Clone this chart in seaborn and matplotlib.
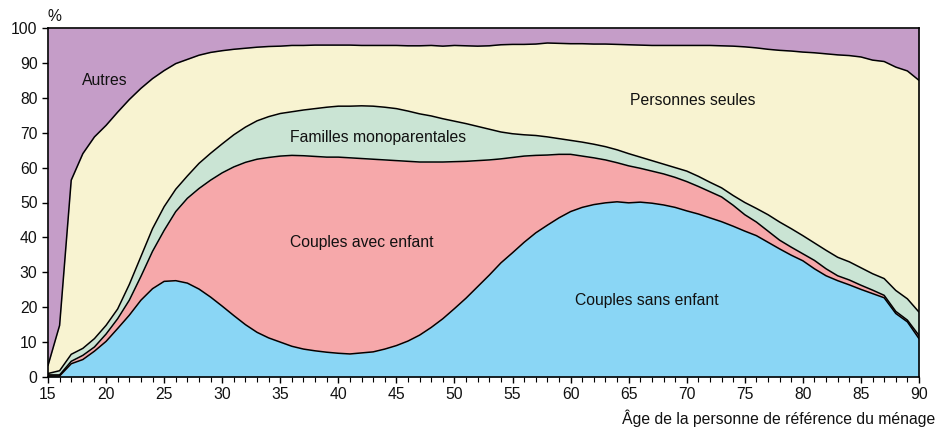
import numpy as np
import pandas as pd
import matplotlib
matplotlib.use('Agg')
import matplotlib.pyplot as plt
from matplotlib.ticker import MultipleLocator
import seaborn as sns

sns.set_theme(style='ticks')
plt.rcParams['font.family'] = ['Liberation Sans', 'DejaVu Sans']

# Age of the household reference person (one point per year)
ages = list(range(15, 91))

# Upper edge of each band (cumulative %)
top_sans_enfant = [
    0.3, 0.3, 3.8, 5.0, 7.4, 10.2, 13.9, 17.7, 22.0, 25.3,
    27.4, 27.6, 26.9, 25.2, 22.9, 20.3, 17.6, 15.0, 12.8, 11.2,
    10.0, 8.8, 8.0, 7.5, 7.1, 6.8, 6.6, 6.9, 7.2, 8.0,
    9.0, 10.3, 12.0, 14.2, 16.7, 19.6, 22.6, 25.9, 29.2, 32.7,
    35.6, 38.6, 41.3, 43.5, 45.6, 47.4, 48.6, 49.4, 49.9, 50.2,
    49.9, 50.1, 49.8, 49.3, 48.6, 47.6, 46.7, 45.6, 44.5, 43.2,
    41.8, 40.5, 38.6, 36.7, 34.9, 33.3, 31.0, 29.0, 27.6, 26.4,
    25.1, 23.9, 22.7, 18.2, 15.8, 11.0,
]
top_avec_enfant = [
    0.6, 0.6, 4.5, 6.2, 8.6, 12.3, 16.7, 22.0, 28.8, 36.0,
    42.0, 47.4, 51.2, 54.0, 56.4, 58.5, 60.2, 61.5, 62.4, 62.9,
    63.3, 63.5, 63.4, 63.2, 63.0, 63.0, 62.8, 62.6, 62.4, 62.2,
    62.0, 61.8, 61.6, 61.6, 61.6, 61.7, 61.8, 62.0, 62.2, 62.5,
    62.9, 63.3, 63.5, 63.6, 63.8, 63.8, 63.3, 62.8, 62.2, 61.4,
    60.5, 59.8, 59.0, 58.2, 57.2, 56.0, 54.6, 53.1, 51.6, 49.2,
    46.5, 44.4, 41.8, 39.2, 37.2, 35.3, 33.4, 31.0, 29.0, 27.8,
    26.3, 24.9, 23.4, 18.8, 16.3, 11.9,
]
top_monoparentales = [
    1.0, 1.8, 6.5, 8.2, 11.0, 14.8, 19.5, 26.5, 34.5, 42.5,
    48.8, 53.8, 57.6, 61.2, 64.1, 66.8, 69.4, 71.6, 73.4, 74.6,
    75.5, 76.0, 76.5, 76.9, 77.3, 77.6, 77.6, 77.7, 77.6, 77.3,
    76.9, 76.2, 75.4, 74.8, 74.0, 73.3, 72.6, 71.8, 71.0, 70.2,
    69.7, 69.4, 69.2, 68.8, 68.3, 67.8, 67.3, 66.7, 66.0, 65.1,
    64.0, 63.0, 62.0, 61.0, 60.0, 59.0, 57.5, 55.8, 54.2, 52.0,
    50.0, 48.3, 46.5, 44.4, 42.5, 40.5, 38.4, 36.3, 34.3, 33.0,
    31.3, 29.6, 28.2, 24.8, 22.4, 18.6,
]
top_seules = [
    3.3, 14.8, 56.4, 64.0, 68.8, 72.1, 75.9, 79.5, 82.7, 85.5,
    87.8, 89.8, 91.0, 92.2, 93.0, 93.5, 93.9, 94.2, 94.5, 94.7,
    94.8, 95.0, 95.0, 95.1, 95.1, 95.1, 95.1, 95.0, 95.0, 95.0,
    95.0, 94.9, 94.9, 95.0, 94.8, 95.0, 94.9, 94.8, 94.9, 95.2,
    95.3, 95.3, 95.4, 95.7, 95.6, 95.5, 95.5, 95.4, 95.4, 95.3,
    95.2, 95.1, 95.0, 95.0, 95.0, 95.0, 95.0, 95.0, 94.9, 94.8,
    94.6, 94.3, 93.9, 93.6, 93.4, 93.1, 92.9, 92.6, 92.3, 92.1,
    91.7, 90.8, 90.4, 88.8, 87.7, 85.0,
]
top_autres = [100.0] * len(ages)

categories = ['Couples sans enfant', 'Couples avec enfant', 'Familles monoparentales',
              'Personnes seules', 'Autres']
colors = ['#8AD6F5', '#F6A8AA', '#CAE4D4', '#F8F3D1', '#C59DC8']

# label positions (age, %) for the in-chart category names
label_x = [66.6, 42.0, 43.4, 70.5, 19.9]
label_y = [22.0, 38.6, 68.7, 79.3, 85.0]

df = pd.DataFrame({
    'age': ages,
    'Couples sans enfant': top_sans_enfant,
    'Couples avec enfant': top_avec_enfant,
    'Familles monoparentales': top_monoparentales,
    'Personnes seules': top_seules,
    'Autres': top_autres,
})

fig = plt.figure(figsize=(9.36, 4.28), dpi=100)
ax = fig.add_axes([48 / 936, 51 / 428, 871 / 936, 349 / 428])

lower = np.zeros(len(ages))
for cat, col in zip(categories, colors):
    upper = df[cat].to_numpy()
    ax.fill_between(df['age'], lower, upper, color=col, linewidth=0, zorder=1)
    lower = upper

# black outlines between the bands
for cat in categories[:-1]:
    sns.lineplot(data=df, x='age', y=cat, color='black', linewidth=1.1, ax=ax, zorder=3)

fs = 11.3
for cat, lx, ly in zip(categories, label_x, label_y):
    ax.text(lx, ly, cat, ha='center', va='center', fontsize=fs, color='#111111', zorder=4)

ax.set_xlim(15, 90)
ax.set_ylim(0, 100)
ax.set_xlabel('')
ax.set_ylabel('')
ax.xaxis.set_major_locator(MultipleLocator(5))
ax.xaxis.set_minor_locator(MultipleLocator(1))
ax.yaxis.set_major_locator(MultipleLocator(10))
ax.tick_params(axis='both', which='major', direction='out', length=4.5, width=1,
               color='black', labelsize=fs, labelcolor='#111111', pad=3)
ax.tick_params(axis='x', which='minor', direction='out', length=3.5, width=0.8, color='black')
for sp in ax.spines.values():
    sp.set_visible(True)
    sp.set_color('black')
    sp.set_linewidth(1.2)
    sp.set_zorder(5)

ax.text(15, 103.3, '%', ha='left', va='center', fontsize=fs, color='#111111', clip_on=False)
fig.text(0.999, 1 - 418 / 428, 'Âge de la personne de référence du ménage',
         ha='right', va='center', fontsize=fs, color='#111111')

fig.savefig('out.png', dpi=100)
